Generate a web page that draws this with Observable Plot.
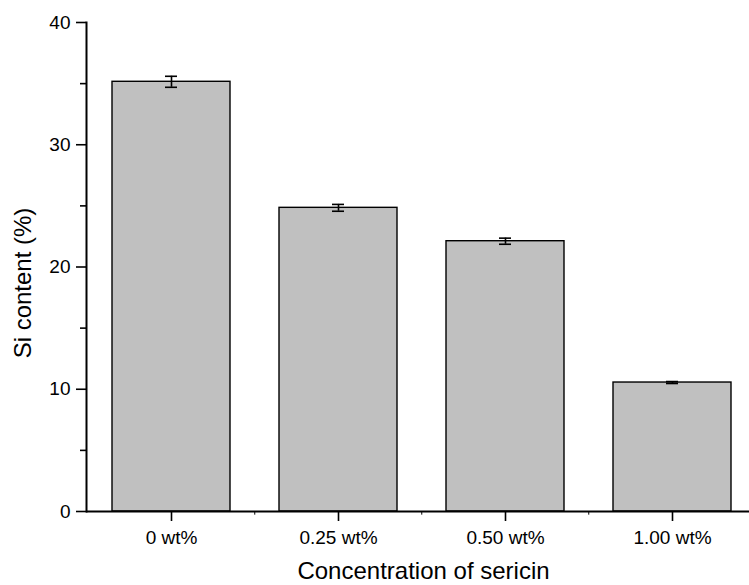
<!DOCTYPE html>
<html>
<head>
<meta charset="utf-8">
<script src="https://cdn.jsdelivr.net/npm/d3@7"></script>
<script src="https://cdn.jsdelivr.net/npm/@observablehq/plot@0.6"></script>
<style>
  html, body { margin: 0; padding: 0; background: white; overflow: hidden; width: 749px; height: 585px; }
  #chart svg { overflow: hidden; }
</style>
</head>
<body>
<div id="chart"></div>
<script>
const concentrations = ["0 wt%", "0.25 wt%", "0.50 wt%", "1.00 wt%"];
const siContent = [35.15, 24.84, 22.11, 10.55];
const siError = [0.45, 0.28, 0.25, 0.08];
const yMajorTicks = [0, 10, 20, 30, 40];
const yMinorTicks = [5, 15, 25, 35];
const xTitle = "Concentration of sericin";
const yTitle = "Si content (%)";

const data = concentrations.map((c, i) => ({
  conc: c, si: siContent[i], lo: siContent[i] - siError[i], hi: siContent[i] + siError[i]
}));

const font = "'Liberation Sans', Arial, Helvetica, sans-serif";
const step = 167.5;

const chart = Plot.plot({
  width: 749,
  height: 585,
  marginLeft: 86,
  marginRight: 0,
  marginTop: 22,
  marginBottom: 74,
  style: { fontFamily: font, background: "white", color: "black" },
  x: { type: "band", domain: concentrations, range: [86, 86 + 4 * step], paddingInner: 0.296, paddingOuter: 0.148, axis: null },
  y: { domain: [0, 40], axis: null },
  marks: [
    Plot.barY(data, { x: "conc", y: "si", fill: "#c0c0c0", stroke: "black", strokeWidth: 1.4 }),
    Plot.ruleX(data, { x: "conc", y1: "lo", y2: "hi", stroke: "black", strokeWidth: 1.6 }),
    Plot.tickY(data, { x: "conc", y: "lo", stroke: "black", strokeWidth: 1.6, insetLeft: 53, insetRight: 53 }),
    Plot.tickY(data, { x: "conc", y: "hi", stroke: "black", strokeWidth: 1.6, insetLeft: 53, insetRight: 53 }),
    Plot.axisY({ ticks: yMajorTicks, tickSize: 10, tickPadding: 6, fontSize: 19, tickFormat: d => String(d), label: null, strokeWidth: 1.6 }),
    Plot.axisY({ ticks: yMinorTicks, tickSize: 6, text: null, label: null, strokeWidth: 1.6 }),
    Plot.axisX({ tickSize: 10, tickPadding: 9, fontSize: 19, label: null, strokeWidth: 1.6 }),
    Plot.ruleX(data.slice(1), { x: "conc", dx: -step / 2, y1: 0, y2: -0.3, stroke: "black", strokeWidth: 1 }),
    Plot.ruleY([0], { stroke: "black", strokeWidth: 2 }),
    Plot.frame({ anchor: "left", stroke: "black", strokeWidth: 2 }),
    Plot.text([xTitle], { frameAnchor: "bottom", text: d => d, textAnchor: "middle", lineAnchor: "middle", dx: 5.5, dy: 60, fontSize: 24, fill: "black" }),
    Plot.text([yTitle], { frameAnchor: "left", text: d => d, textAnchor: "middle", lineAnchor: "middle", rotate: -90, dx: -63.5, dy: 16, fontSize: 24, fill: "black" })
  ]
});
document.getElementById("chart").appendChild(chart);
</script>
</body>
</html>
